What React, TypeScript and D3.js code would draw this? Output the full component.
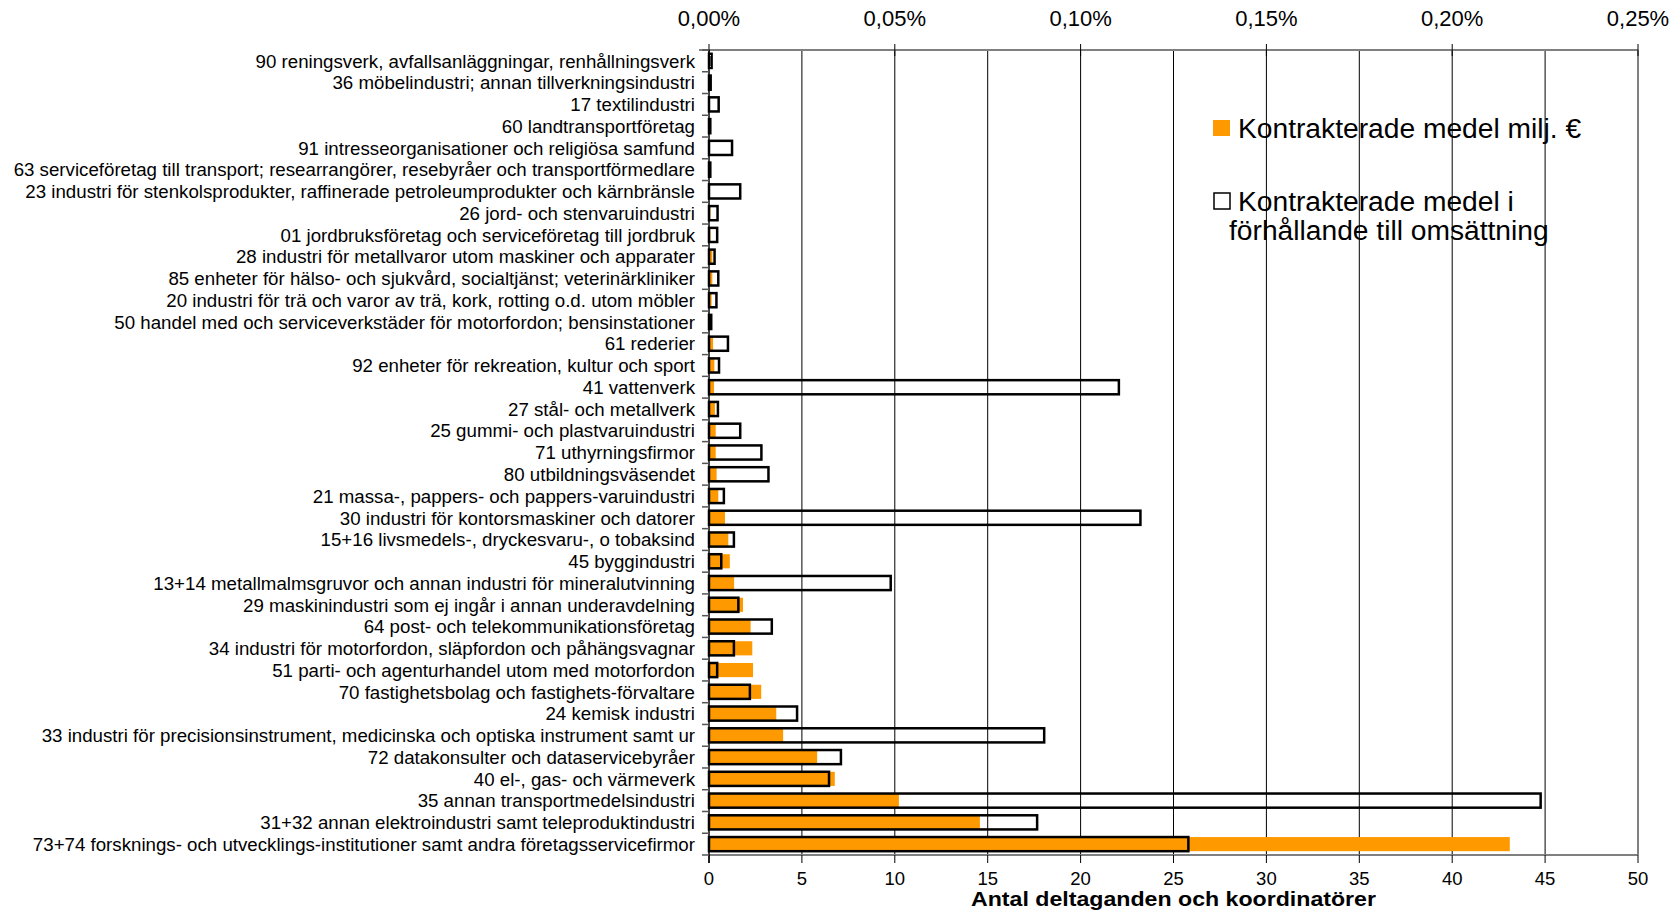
import React from "react";
import * as d3 from "d3";

const categories = [
  "90 reningsverk, avfallsanläggningar, renhållningsverk",
  "36 möbelindustri; annan tillverkningsindustri",
  "17 textilindustri",
  "60 landtransportföretag",
  "91 intresseorganisationer och religiösa samfund",
  "63 serviceföretag till transport; researrangörer, resebyråer och transportförmedlare",
  "23 industri för stenkolsprodukter, raffinerade petroleumprodukter och kärnbränsle",
  "26 jord- och stenvaruindustri",
  "01 jordbruksföretag och serviceföretag till jordbruk",
  "28 industri för metallvaror utom maskiner och apparater",
  "85 enheter för hälso- och sjukvård, socialtjänst; veterinärkliniker",
  "20 industri för trä och varor av trä, kork, rotting o.d. utom möbler",
  "50 handel med och serviceverkstäder för motorfordon; bensinstationer",
  "61 rederier",
  "92 enheter för rekreation, kultur och sport",
  "41 vattenverk",
  "27 stål- och metallverk",
  "25 gummi- och plastvaruindustri",
  "71 uthyrningsfirmor",
  "80 utbildningsväsendet",
  "21 massa-, pappers- och pappers-varuindustri",
  "30 industri för kontorsmaskiner och datorer",
  "15+16 livsmedels-, dryckesvaru-, o tobaksind",
  "45 byggindustri",
  "13+14 metallmalmsgruvor och annan industri för mineralutvinning",
  "29 maskinindustri som ej ingår i annan underavdelning",
  "64 post- och telekommunikationsföretag",
  "34 industri för motorfordon, släpfordon och påhängsvagnar",
  "51 parti- och agenturhandel utom med motorfordon",
  "70 fastighetsbolag och fastighets-förvaltare",
  "24 kemisk industri",
  "33 industri för precisionsinstrument, medicinska och optiska instrument samt ur",
  "72 datakonsulter och dataservicebyråer",
  "40 el-, gas- och värmeverk",
  "35 annan transportmedelsindustri",
  "31+32 annan elektroindustri samt teleproduktindustri",
  "73+74 forsknings- och utvecklings-institutioner samt andra företagsservicefirmor",
];

// Kontrakterade medel milj. € (bottom axis)
const fundsMEUR = [
  0.05, 0.03, 0.03, 0.03, 0.05, 0.03, 0.05, 0.08, 0.08, 0.18, 0.18, 0.14, 0.1,
  0.22, 0.29, 0.27, 0.32, 0.36, 0.36, 0.41, 0.5, 0.86, 1.04, 1.12, 1.35, 1.83,
  2.24, 2.33, 2.37, 2.81, 3.62, 3.99, 5.82, 6.77, 10.22, 14.58, 43.1,
];

// Kontrakterade medel i förhållande till omsättning (%, top axis)
const fundsPctOfTurnover = [
  0.0007, 0.00045, 0.0026, 0.00035, 0.0062, 0.00035, 0.0084, 0.0023, 0.0022,
  0.0015, 0.0025, 0.002, 0.0006, 0.0051, 0.0027, 0.1103, 0.0024, 0.0084,
  0.0141, 0.016, 0.004, 0.1161, 0.0067, 0.0033, 0.0489, 0.0079, 0.0169,
  0.0067, 0.0022, 0.011, 0.0237, 0.0902, 0.0355, 0.0323, 0.2238, 0.0883,
  0.129,
];

const bottomTicks = [0, 5, 10, 15, 20, 25, 30, 35, 40, 45, 50];
const topTicks = [0, 0.05, 0.1, 0.15, 0.2, 0.25];

const legendLabels = [
  ["Kontrakterade medel milj. €"],
  ["Kontrakterade medel i", "förhållande till omsättning"],
];
const xTitle = "Antal deltaganden och koordinatörer";

const W = 1677;
const H = 910;
const left = 709;
const right = 1638;
const top = 50;
const bottom = 855;
const ORANGE = "#FF9900";
const FONT = "'Liberation Sans', Arial, Helvetica, sans-serif";

export default function App() {
  const x = d3.scaleLinear().domain([0, 50]).range([left, right]);
  const xp = d3.scaleLinear().domain([0, 0.25]).range([left, right]);
  const y = d3
    .scaleBand<string>()
    .domain(categories)
    .range([top, bottom])
    .paddingInner(0.35)
    .paddingOuter(0.175);
  const step = y.step();
  const bh = y.bandwidth();
  const fmtPct = (v: number) => d3.format(".2f")(v).replace(".", ",") + "%";

  return (
    <svg
      width={W}
      height={H}
      style={{ position: "absolute", left: 0, top: 0, background: "#fff" }}
      fontFamily={FONT}
    >
      <rect x={0} y={0} width={W} height={H} fill="#fff" />
      {/* gridlines */}
      {bottomTicks.slice(1).map((t) => (
        <line
          key={"g" + t}
          x1={x(t)}
          x2={x(t)}
          y1={top}
          y2={bottom}
          stroke={t === 50 ? "#808080" : "#000"}
          strokeWidth={t === 50 ? 2 : 1}
        />
      ))}
      {/* orange bars */}
      {categories.map((c, i) => (
        <rect
          key={"o" + i}
          x={x(0)}
          y={y(c)!}
          width={x(fundsMEUR[i]) - x(0)}
          height={bh}
          fill={ORANGE}
        />
      ))}
      {/* outline bars */}
      {categories.map((c, i) => (
        <rect
          key={"w" + i}
          x={xp(0)}
          y={y(c)!}
          width={Math.max(xp(fundsPctOfTurnover[i]) - xp(0), 0.5)}
          height={bh}
          fill="none"
          stroke="#000"
          strokeWidth={2.5}
        />
      ))}
      {/* top axis */}
      <line x1={left - 10} x2={right} y1={top} y2={top} stroke="#808080" strokeWidth={2} />
      {topTicks.map((t) => (
        <g key={"tt" + t}>
          <line x1={xp(t)} x2={xp(t)} y1={top - 6} y2={top + 6} stroke="#000" strokeWidth={1} />
          <text
            x={xp(t)}
            y={top - 24}
            textAnchor="middle"
            fontSize={22}
            fill="#000"
          >
            {fmtPct(t)}
          </text>
        </g>
      ))}
      {/* bottom axis */}
      <line x1={left} x2={right} y1={bottom} y2={bottom} stroke="#808080" strokeWidth={2} />
      {bottomTicks.map((t) => (
        <g key={"bt" + t}>
          <line x1={x(t)} x2={x(t)} y1={bottom} y2={bottom + 8} stroke="#000" strokeWidth={1} />
          <text x={x(t)} y={bottom + 30} textAnchor="middle" fontSize={18.5} fill="#000">
            {t}
          </text>
        </g>
      ))}
      <text
        x={(left + right) / 2}
        y={bottom + 51}
        textAnchor="middle"
        fontSize={20.5}
        fontWeight="bold"
        fill="#000"
        textLength={405}
        lengthAdjust="spacingAndGlyphs"
      >
        {xTitle}
      </text>
      {/* left axis */}
      <line x1={left} x2={left} y1={top} y2={bottom + 8} stroke="#000" strokeWidth={1.5} />
      {d3.range(categories.length + 1).map((k) => (
        <line
          key={"lt" + k}
          x1={left - 7}
          x2={left}
          y1={top + k * step}
          y2={top + k * step}
          stroke="#555"
          strokeWidth={1.5}
        />
      ))}
      {categories.map((c) => (
        <text
          key={"l" + c}
          x={left - 14}
          y={y(c)! + bh / 2}
          dy="0.36em"
          textAnchor="end"
          fontSize={18.7}
          fill="#000"
        >
          {c}
        </text>
      ))}
      {/* legend */}
      <rect x={1213} y={120} width={17} height={16} fill={ORANGE} />
      <text x={1238} y={128} dy="0.36em" fontSize={28.2} fill="#000">
        {legendLabels[0][0]}
      </text>
      <rect x={1214} y={193} width={16} height={16} fill="#fff" stroke="#000" strokeWidth={1.5} />
      {legendLabels[1].map((s, k) => (
        <text
          key={"lg" + k}
          x={k === 0 ? 1238 : 1229}
          y={201 + k * 29}
          dy="0.36em"
          fontSize={28.2}
          fill="#000"
        >
          {s}
        </text>
      ))}
    </svg>
  );
}
